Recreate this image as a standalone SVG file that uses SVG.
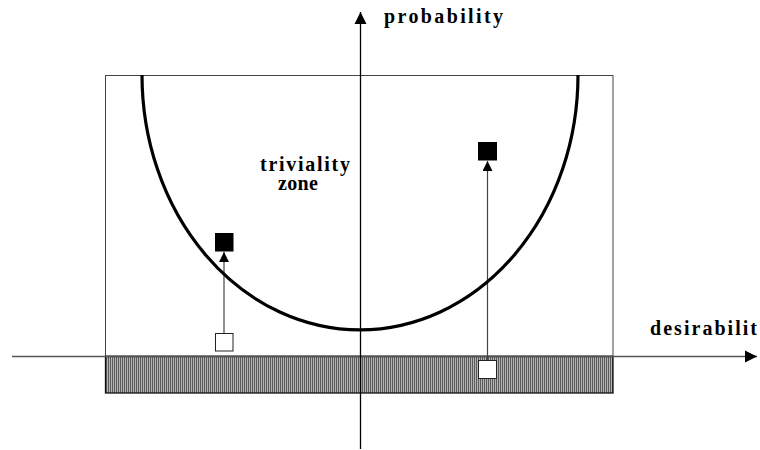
<svg xmlns="http://www.w3.org/2000/svg" width="760" height="450" viewBox="0 0 760 450">
<defs>
<pattern id="hatch" width="2" height="4" patternUnits="userSpaceOnUse">
<rect width="2" height="4" fill="#b4b4b4"/>
<rect width="1" height="4" fill="#5a5a5a"/>
</pattern>
<marker id="ah" viewBox="0 0 10 10" refX="10" refY="5" markerWidth="10" markerHeight="10" markerUnits="userSpaceOnUse" orient="auto">
<path d="M0,0 L10,5 L0,10 Z" fill="#000"/>
</marker>
<marker id="axh" viewBox="0 0 12 12" refX="12" refY="6" markerWidth="12" markerHeight="13" markerUnits="userSpaceOnUse" orient="auto">
<path d="M0,0 L12,6 L0,12 Z" fill="#000"/>
</marker>
</defs>
<style>
.lbl{font-family:"Liberation Serif","Times New Roman","DejaVu Serif",serif;font-weight:700;font-size:20px;fill:#000}
.open{fill:#fff;stroke:#222;stroke-width:1}
.full{fill:#000}
</style>
<rect width="760" height="450" fill="#fff"/>
<g id="frame">
<rect x="105.5" y="75.5" width="507.5" height="280.5" fill="none" stroke="#444" stroke-width="1"/>
<rect id="band" x="105.5" y="356.5" width="507.5" height="36.5" fill="url(#hatch)" stroke="#111" stroke-width="1.3"/>
</g>
<g id="connectors">
<line x1="12" y1="356.5" x2="757" y2="356.5" stroke="#555" stroke-width="1.3" marker-end="url(#axh)"/>
<line x1="360.5" y1="449" x2="360.5" y2="12" stroke="#000" stroke-width="1.3" marker-end="url(#axh)"/>
<line x1="224" y1="333" x2="224" y2="252" stroke="#444" stroke-width="1.2" marker-end="url(#ah)"/>
<line x1="487.5" y1="360" x2="487.5" y2="161" stroke="#444" stroke-width="1.2" marker-end="url(#ah)"/>
</g>
<g id="curve">
<path d="M142,75 A218,255 0 0 0 578,75" fill="none" stroke="#000" stroke-width="3.2"/>
</g>
<g id="sq-left-open"><rect class="open" x="215.5" y="333.5" width="17.5" height="17.5"/></g>
<g id="sq-left-full"><rect class="full" x="215" y="233" width="18.5" height="18.5"/></g>
<g id="sq-right-open"><rect class="open" x="478.5" y="360.5" width="18" height="18"/></g>
<g id="sq-right-full"><rect class="full" x="478" y="142" width="19" height="18.5"/></g>
<g id="labels">
<text class="lbl" x="384" y="23" textLength="119" lengthAdjust="spacing">probability</text>
<text class="lbl" x="650" y="335" textLength="107" lengthAdjust="spacing">desirabilit</text>
<text class="lbl" x="260" y="171" textLength="90" lengthAdjust="spacing">triviality</text>
<text class="lbl" x="278" y="190" textLength="40" lengthAdjust="spacing">zone</text>
</g>
</svg>
